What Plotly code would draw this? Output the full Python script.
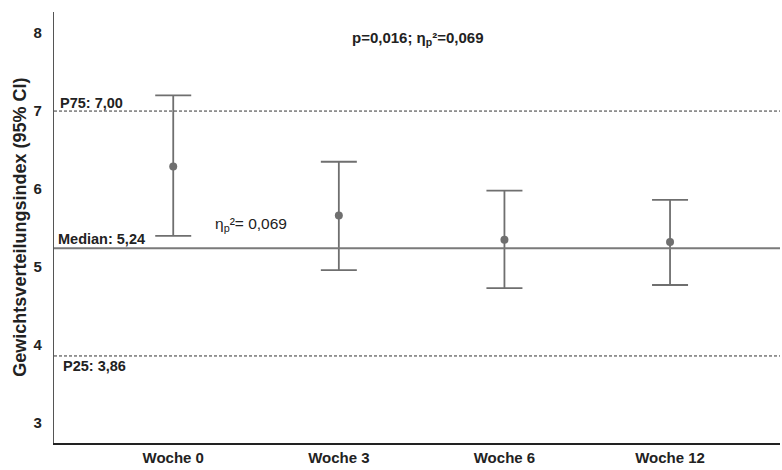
import plotly.graph_objects as go

# Weight distribution index per week: means with 95% CI bounds
weeks = ["Woche 0", "Woche 3", "Woche 6", "Woche 12"]
mean_vals = [6.29, 5.66, 5.35, 5.32]
ci_upper = [7.20, 6.35, 5.98, 5.86]
ci_lower = [5.40, 4.96, 4.73, 4.77]

# Reference levels (percentiles / median)
p75 = 7.00
median = 5.24
p25 = 3.86

x_pos = list(range(len(weeks)))
err_plus = [u - m for u, m in zip(ci_upper, mean_vals)]
err_minus = [m - l for m, l in zip(mean_vals, ci_lower)]

FONT = "Liberation Sans, Arial, sans-serif"
GREY = "#6f6f6f"
INK = "#222222"

fig = go.Figure()
fig.add_trace(go.Scatter(
    x=x_pos, y=mean_vals, mode="markers",
    marker=dict(color=GREY, size=8),
    error_y=dict(type="data", symmetric=False, array=err_plus, arrayminus=err_minus,
                 color=GREY, thickness=1.8, width=18),
    showlegend=False, hoverinfo="skip",
))

# Percentile and median reference lines
fig.add_shape(type="line", xref="paper", x0=0, x1=1, yref="y", y0=p75, y1=p75,
              line=dict(color="#333333", width=1, dash="3px,2px"))
fig.add_shape(type="line", xref="paper", x0=0, x1=1, yref="y", y0=p25, y1=p25,
              line=dict(color="#333333", width=1, dash="3px,2px"))
fig.add_shape(type="line", xref="paper", x0=0, x1=1, yref="y", y0=median, y1=median,
              line=dict(color="#7a7a7a", width=2))

lbl = dict(family=FONT, size=14.5, color=INK)
fig.add_annotation(xref="paper", x=0.005, y=p75, yanchor="bottom", xanchor="left",
                   text="<b>P75: 7,00</b>", showarrow=False, font=lbl, yshift=-2)
fig.add_annotation(xref="paper", x=0.003, y=median, yanchor="bottom", xanchor="left",
                   text="<b>Median: 5,24</b>", showarrow=False, font=lbl, yshift=-1)
fig.add_annotation(xref="paper", x=0.010, y=p25, yanchor="top", xanchor="left",
                   text="<b>P25: 3,86</b>", showarrow=False, font=lbl)
fig.add_annotation(x=0.24, y=5.55, xanchor="left", yanchor="middle",
                   text="η<sub>p</sub>²= 0,069", showarrow=False,
                   font=dict(family=FONT, size=15.5, color=INK))
fig.add_annotation(x=1.48, y=7.93, xanchor="center", yanchor="middle",
                   text="<b>p=0,016; η<sub>p</sub>²=0,069</b>", showarrow=False,
                   font=dict(family=FONT, size=15, color=INK))

# Vertical axis title
fig.add_annotation(xref="paper", yref="paper", x=-0.048, y=0.5, xanchor="center",
                   yanchor="middle", textangle=-90, showarrow=False,
                   text="<b>Gewichtsverteilungsindex (95% CI)</b>",
                   font=dict(family=FONT, size=18, color=INK))

fig.update_layout(
    width=782, height=470,
    margin=dict(l=54, r=2, t=12, b=27),
    paper_bgcolor="white", plot_bgcolor="white",
    font=dict(family=FONT, color=INK),
    xaxis=dict(range=[-0.72, 3.664], tickvals=x_pos, ticktext=[f"<b>{w}</b>" for w in weeks],
               showgrid=False, zeroline=False, showline=True, linecolor=INK,
               linewidth=1.5, ticks="", tickfont=dict(size=15, family=FONT, color=INK)),
    yaxis=dict(range=[2.744, 8.27], tickvals=[3, 4, 5, 6, 7, 8],
               ticktext=["<b>3</b>", "<b>4</b>", "<b>5</b>", "<b>6</b>", "<b>7</b>", "<b>8</b>"],
               showgrid=False, zeroline=False, showline=True, linecolor="#555555",
               linewidth=1.2, ticks="", ticklabelstandoff=8,
               tickfont=dict(size=15, family=FONT, color=INK)),
)

fig.write_html("out.html")
